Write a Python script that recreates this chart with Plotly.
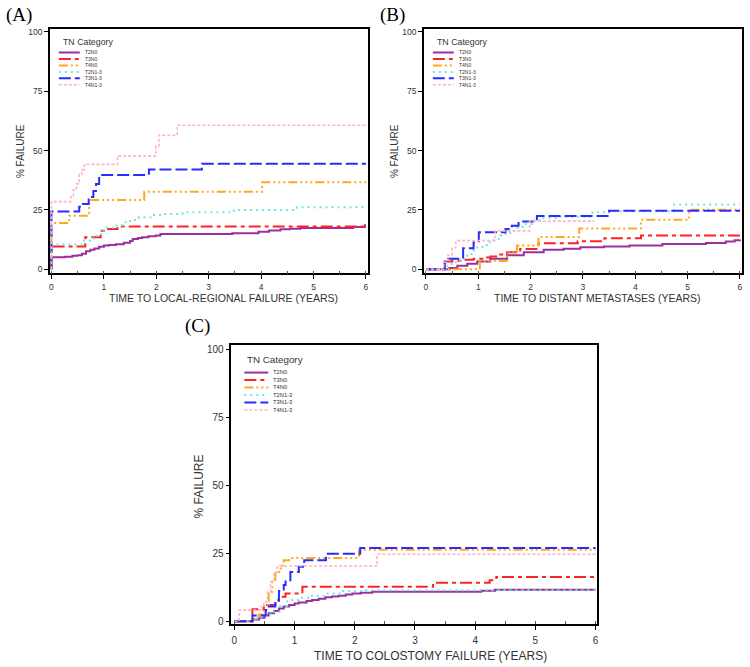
import plotly.graph_objects as go

# ---------------- categories / styles ----------------
CATEGORIES = ["T2N0", "T3N0", "T4N0", "T2N1-3", "T3N1-3", "T4N1-3"]
COLORS = ["#9a2f9e", "#ff2222", "#ffa81e", "#6fe6e6", "#2b2bff", "#ffb3c6"]
DASHES = ["solid", "12px,4px,4px,4px", "9px,3px,2px,3px,2px,3px,2px,3px",
          "2px,4px", "12px,4px", "3px,2px"]
WIDTHS = [2, 2, 2, 2, 2, 1.6]

PANEL_LABELS = ["(A)", "(B)", "(C)"]
X_TITLES = ["TIME TO LOCAL-REGIONAL FAILURE (YEARS)",
            "TIME TO DISTANT METASTASES (YEARS)",
            "TIME TO COLOSTOMY FAILURE (YEARS)"]
Y_TITLE = "% FAILURE"
LEGEND_TITLE = "TN Category"
X_TICKS = [0, 1, 2, 3, 4, 5, 6]
Y_TICKS = [0, 25, 50, 75, 100]

# ---------------- Panel A: local-regional failure ----------------
A_T2N0_X = [0, 0, 0.25, 0.4, 0.5, 0.58, 0.66, 0.74, 0.82, 0.91, 1.0, 1.1, 1.23, 1.38, 1.5, 1.55,
            1.65, 1.73, 1.85, 1.99, 2.08, 3.45, 3.95, 4.15, 4.37, 4.55, 4.75, 5.76, 5.98, 6.0]
A_T2N0_Y = [0, 5.1, 5.3, 5.7, 5.9, 6.6, 7.6, 8.2, 8.8, 9.5, 10.0, 10.3, 10.6, 11.2, 11.9, 12.8,
            13.2, 13.5, 13.9, 14.2, 14.9, 15.2, 15.8, 16.4, 16.9, 17.1, 17.4, 17.8, 18.6, 18.6]
A_T3N0_X = [0, 0, 0.645, 0.94, 1.04, 1.26, 6.0]
A_T3N0_Y = [0, 9.6, 13.5, 16.3, 17.0, 18.0, 18.0]
A_T4N0_X = [0, 0, 0.34, 0.72, 1.77, 4.02, 6.0]
A_T4N0_Y = [0, 19.5, 22.6, 29.2, 32.7, 36.7, 36.7]
A_T2N13_X = [0, 0, 0.6, 0.8, 0.95, 1.05, 1.2, 1.35, 1.5, 1.67, 1.92, 2.1, 2.5, 3.48, 4.68, 6.0]
A_T2N13_Y = [0, 10.5, 12.0, 14.0, 16.5, 17.5, 18.5, 19.8, 20.8, 21.9, 22.9, 23.3, 24.0, 25.0, 26.1, 26.1]
A_T3N13_X = [0, 0, 0.53, 0.6, 0.71, 0.8, 0.85, 0.91, 1.86, 2.87, 6.0]
A_T3N13_Y = [0, 24.4, 26.4, 27.5, 30.5, 33.0, 35.9, 39.7, 42.1, 44.5, 44.5]
A_T4N13_X = [0, 0, 0.37, 0.42, 0.48, 0.53, 0.58, 0.63, 1.26, 1.99, 2.05, 2.4, 6.0]
A_T4N13_Y = [0, 28.5, 31.0, 33.5, 36.0, 40.0, 42.0, 44.2, 47.7, 52.0, 56.5, 60.7, 60.7]

# ---------------- Panel B: distant metastases ----------------
B_T2N0_X = [0, 0.45, 0.6, 0.79, 0.98, 1.23, 1.55, 1.87, 2.25, 2.63, 2.95, 3.4, 3.89, 4.52, 5.35, 5.73, 5.9, 6.0]
B_T2N0_Y = [0, 0.6, 1.5, 2.4, 3.3, 4.5, 5.9, 7.2, 8.2, 8.7, 9.3, 9.6, 10.0, 10.7, 11.1, 11.7, 12.3, 12.6]
B_T3N0_X = [0, 0.36, 0.5, 0.7, 0.91, 1.1, 1.23, 1.4, 1.55, 1.8, 2.15, 2.9, 3.41, 4.11, 6.0]
B_T3N0_Y = [0, 3.3, 3.6, 4.0, 4.5, 5.0, 5.4, 6.2, 7.2, 8.6, 11.0, 11.8, 13.1, 14.3, 14.3]
B_T4N0_X = [0, 1.03, 1.55, 1.74, 2.15, 2.93, 4.11, 5.03, 6.0]
B_T4N0_Y = [0, 3.5, 7.0, 10.0, 13.6, 17.2, 20.9, 25.1, 25.1]
B_T2N13_X = [0, 0.38, 0.45, 0.53, 0.65, 0.79, 0.9, 0.98, 1.08, 1.17, 1.3, 1.42, 1.52, 1.61, 1.75,
             1.87, 2.06, 2.18, 2.5, 3.18, 3.5, 4.74, 6.0]
B_T2N13_Y = [0, 1.5, 2.2, 3.0, 4.5, 6.5, 8.0, 9.3, 10.3, 11.4, 12.8, 14.2, 15.2, 16.3, 17.8,
             19.1, 20.5, 21.6, 22.2, 24.0, 24.5, 27.3, 27.3]
B_T3N13_X = [0, 0.36, 0.42, 0.71, 0.91, 1.01, 1.52, 1.64, 1.77, 2.12, 3.5, 6.0]
B_T3N13_Y = [0, 3.1, 4.5, 8.9, 11.4, 15.6, 17.0, 18.4, 20.1, 22.5, 24.7, 24.7]
B_T4N13_X = [0, 0.34, 0.42, 0.5, 0.57, 1.32, 1.98, 3.22]
B_T4N13_Y = [0, 3.0, 6.0, 9.0, 12.1, 16.2, 20.3, 20.3]

# ---------------- Panel C: colostomy failure ----------------
C_T2N0_X = [0, 0.3, 0.41, 0.5, 0.57, 0.66, 0.74, 0.82, 0.91, 1.0, 1.07, 1.2, 1.29, 1.4, 1.51, 1.62,
            1.73, 1.85, 1.96, 2.1, 2.29, 4.1, 4.33, 6.0]
C_T2N0_Y = [0, 0.6, 1.3, 2.1, 2.9, 3.8, 4.7, 5.4, 6.0, 6.5, 6.9, 7.4, 7.8, 8.3, 8.8, 9.1,
            9.4, 9.8, 10.2, 10.5, 10.8, 11.2, 11.6, 11.6]
C_T3N0_X = [0, 0.3, 0.49, 0.68, 0.74, 0.85, 1.13, 3.3, 4.24, 4.35, 6.0]
C_T3N0_Y = [0, 4.4, 6.0, 7.8, 9.0, 10.2, 12.7, 14.1, 15.1, 16.3, 16.3]
C_T4N0_X = [0, 0.3, 0.4, 0.49, 0.57, 0.63, 0.68, 0.77, 0.82, 0.91, 2.07, 6.0]
C_T4N0_Y = [0, 0.8, 2.5, 6.0, 10.8, 14.5, 18.1, 20.5, 22.4, 23.2, 26.3, 26.3]
C_T2N13_X = [0, 0.3, 0.45, 0.6, 0.75, 0.88, 1.07, 1.29, 1.51, 1.79, 2.18, 6.0]
C_T2N13_Y = [0, 1.0, 2.0, 3.5, 5.5, 7.8, 8.6, 9.4, 10.2, 11.1, 11.4, 11.4]
C_T3N13_X = [0, 0.3, 0.52, 0.57, 0.68, 0.74, 0.82, 0.85, 0.93, 1.07, 1.16, 1.52, 2.09, 6.0]
C_T3N13_Y = [0, 2.1, 4.1, 5.4, 6.6, 11.1, 13.3, 15.1, 18.1, 20.0, 22.4, 24.8, 26.9, 26.9]
C_T4N13_X = [0, 0.08, 0.45, 0.49, 0.55, 0.6, 0.66, 0.71, 2.37, 6.0]
C_T4N13_Y = [0, 4.1, 5.5, 7.2, 10.8, 14.5, 18.1, 20.3, 24.6, 24.6]

SERIES = [
    [(A_T2N0_X, A_T2N0_Y), (A_T3N0_X, A_T3N0_Y), (A_T4N0_X, A_T4N0_Y),
     (A_T2N13_X, A_T2N13_Y), (A_T3N13_X, A_T3N13_Y), (A_T4N13_X, A_T4N13_Y)],
    [(B_T2N0_X, B_T2N0_Y), (B_T3N0_X, B_T3N0_Y), (B_T4N0_X, B_T4N0_Y),
     (B_T2N13_X, B_T2N13_Y), (B_T3N13_X, B_T3N13_Y), (B_T4N13_X, B_T4N13_Y)],
    [(C_T2N0_X, C_T2N0_Y), (C_T3N0_X, C_T3N0_Y), (C_T4N0_X, C_T4N0_Y),
     (C_T2N13_X, C_T2N13_Y), (C_T3N13_X, C_T3N13_Y), (C_T4N13_X, C_T4N13_Y)],
]

# ---------------- layout geometry (pixels) ----------------
W, H = 750, 667
FRAMES = [  # left, right, top, bottom
    (49, 368, 27, 273),
    (424, 743, 27, 273),
    (231, 598, 345, 626),
]
XRANGES = [[-0.03, 6.04], [-0.04, 6.04], [-0.05, 6.03]]
YRANGES = [[-1.7, 101.3], [-1.7, 101.3], [-1.1, 101.5]]
TICKFONT = [8.5, 8.5, 10]
TICKSTAND = [1, 1, 2]
XT_FONT = [10.5, 10.5, 12]
YT_FONT = [10, 10, 12]
XT_POS = [(223, 298), (598, 298), (431, 658)]
YT_POS = [(19, 150), (394, 150), (199, 487)]
LBL_POS = [(3, 13), (378, 13), (182, 326)]
# legend geometry: title dx, title dy, line x0, line x1, text x, first item dy, item font, title font
LEG = [
    (11, 13, 9, 30, 34, 23.8, 5.0, 8.8),
    (11, 13, 9, 30, 34, 23.8, 5.0, 8.8),
    (14, 15, 13, 37, 41, 27.8, 5.8, 9.8),
]

TEXT = "#333333"
FONT = "Liberation Sans, Arial, sans-serif"

fig = go.Figure()
layout = dict(width=W, height=H, margin=dict(l=0, r=0, t=0, b=0),
              paper_bgcolor="white", plot_bgcolor="white", showlegend=False,
              font=dict(family=FONT, color=TEXT))
annotations = []
shapes = []

for i in range(3):
    sfx = "" if i == 0 else str(i + 1)
    l, r, t, b = FRAMES[i]
    pw, ph = r - l, b - t
    for k, (xs, ys) in enumerate(SERIES[i]):
        fig.add_trace(go.Scatter(
            x=xs, y=ys, mode="lines", name=CATEGORIES[k],
            line=dict(shape="hv", color=COLORS[k], dash=DASHES[k], width=WIDTHS[k]),
            xaxis="x" + sfx, yaxis="y" + sfx, hoverinfo="skip"))
    layout["xaxis" + sfx] = dict(
        domain=[l / W, r / W], range=XRANGES[i], anchor="y" + sfx,
        tickmode="array", tickvals=X_TICKS, ticks="outside", ticklen=4, tickwidth=1,
        tickcolor="black", showline=True, mirror=True, linecolor="black", linewidth=1.5,
        showgrid=False, zeroline=False,
        tickfont=dict(size=TICKFONT[i], color=TEXT, family=FONT),
        ticklabelstandoff=TICKSTAND[i],
        minor=dict(tick0=0, dtick=0.5, ticks="inside", ticklen=3, tickcolor="#555", showgrid=False))
    layout["yaxis" + sfx] = dict(
        domain=[1 - b / H, 1 - t / H], range=YRANGES[i], anchor="x" + sfx,
        tickmode="array", tickvals=Y_TICKS, ticks="outside", ticklen=4, tickwidth=1,
        tickcolor="black", showline=True, mirror=True, linecolor="black", linewidth=1.5,
        showgrid=False, zeroline=False,
        tickfont=dict(size=TICKFONT[i], color=TEXT, family=FONT))

    # axis titles and panel label
    annotations.append(dict(text=X_TITLES[i], x=XT_POS[i][0] / W, y=1 - XT_POS[i][1] / H,
                            xref="paper", yref="paper", showarrow=False,
                            xanchor="center", yanchor="middle",
                            font=dict(size=XT_FONT[i], color=TEXT, family=FONT)))
    annotations.append(dict(text=Y_TITLE, x=YT_POS[i][0] / W, y=1 - YT_POS[i][1] / H,
                            xref="paper", yref="paper", showarrow=False, textangle=-90,
                            xanchor="center", yanchor="middle",
                            font=dict(size=YT_FONT[i], color=TEXT, family=FONT)))
    annotations.append(dict(text=PANEL_LABELS[i], x=LBL_POS[i][0] / W, y=1 - LBL_POS[i][1] / H,
                            xref="paper", yref="paper", showarrow=False,
                            xanchor="left", yanchor="middle",
                            font=dict(size=19, color="black",
                                      family="Liberation Serif, Times New Roman, serif")))

    # in-plot legend: swatches as shapes, labels as one multi-line text block
    tdx, tdy, lx0, lx1, tx, fdy, ifs, tfs = LEG[i]
    sp = 1.3 * ifs
    xr, yr = "x" + sfx + " domain", "y" + sfx + " domain"
    annotations.append(dict(text=LEGEND_TITLE, x=tdx / pw, y=1 - tdy / ph, xref=xr, yref=yr,
                            showarrow=False, xanchor="left", yanchor="middle",
                            font=dict(size=tfs, color=TEXT, family=FONT)))
    for k in range(len(CATEGORIES)):
        yy = 1 - (fdy + k * sp) / ph
        shapes.append(dict(type="line", xref=xr, yref=yr, x0=lx0 / pw, x1=lx1 / pw, y0=yy, y1=yy,
                           line=dict(color=COLORS[k], dash=DASHES[k], width=WIDTHS[k])))
    ymid = 1 - (fdy + (len(CATEGORIES) - 1) / 2 * sp) / ph
    annotations.append(dict(text="<br>".join(CATEGORIES), x=tx / pw, y=ymid, xref=xr, yref=yr,
                            showarrow=False, xanchor="left", yanchor="middle", align="left",
                            borderpad=0, font=dict(size=ifs, color=TEXT, family=FONT)))

layout["annotations"] = annotations
layout["shapes"] = shapes
fig.update_layout(**layout)
fig.write_html("out.html", config={"displayModeBar": False},
               post_script="document.body.style.margin='0px';document.body.style.overflow='hidden';")
